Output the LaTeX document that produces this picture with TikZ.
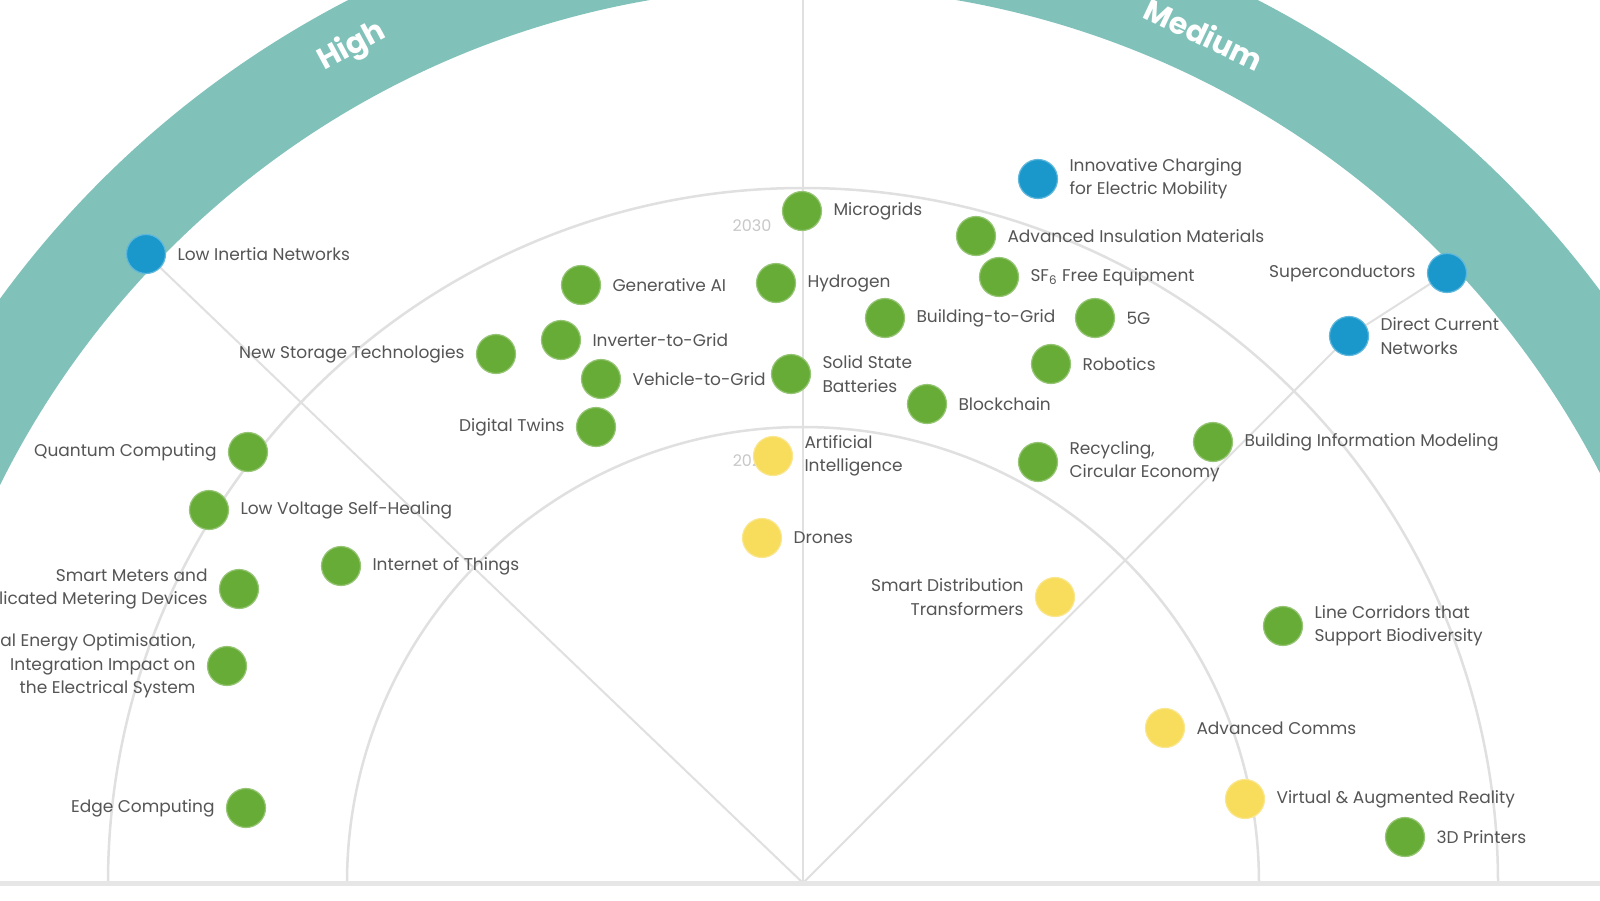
\documentclass[tikz,border=0pt]{standalone}
\usepackage{fontspec}
\setmainfont{Poppins}
\usetikzlibrary{backgrounds}
\definecolor{bandc}{HTML}{80C1B9}
\definecolor{dgreen}{HTML}{68AC38}
\definecolor{dblue}{HTML}{1A98CC}
\definecolor{dyellow}{HTML}{F8DC5C}
\definecolor{txt}{HTML}{555555}
\definecolor{gridc}{HTML}{E0E0E0}
\definecolor{yearc}{HTML}{C8C8C8}
\begin{document}
\begin{tikzpicture}[x=0.5pt,y=-0.5pt,
  lbl/.style={text=txt,font=\fontsize{8.5}{11.7}\selectfont,inner xsep=5.5pt,inner ysep=0pt},
  every label/.style={lbl},
  dot/.style={circle,minimum size=19.5pt,inner sep=0pt,label distance=0pt,line width=0.6pt},
  gdot/.style={dot,fill=dgreen,draw=dgreen!70!white},
  bdot/.style={dot,fill=dblue,draw=dblue!70!white},
  ydot/.style={dot,fill=dyellow,draw=dyellow!70!white},
  ringline/.style={draw=gridc,line width=1.25pt},
  guide/.style={draw=gridc,line width=1pt},
  baseline/.style={draw=gridc!80!white,line width=2.5pt},
  year/.style={text=yearc,font=\fontsize{8}{10}\selectfont,inner sep=0pt},
  bandtext/.style={text=white,font=\fontsize{15}{18}\selectfont\bfseries,inner sep=0pt}]
\useasboundingbox (0,0) rectangle (1600,900);
\coordinate (O) at (803,883);
\coordinate (top) at (803,0);
\coordinate (bl) at (0,883);
\coordinate (br) at (1600,883);

% year labels
\node[year] (y2030) at (752,226) {2030};
\node[year] (y2025) at (752,461) {2025};

% band labels
\node[bandtext,rotate=28.3] (high) at (352,47) {High};
\node[bandtext,rotate=-25.3] (medium) at (1204,34) {Medium};

% blue
\node[bdot,label={right:Low Inertia Networks}] (lowinertia) at (146,254) {};
\node[bdot,label={[align=left]right:{Innovative Charging\\for Electric Mobility}}] (charging) at (1038,179) {};
\node[bdot,label={left:Superconductors}] (supercond) at (1447,273) {};
\node[bdot,label={[align=left]right:{Direct Current\\Networks}}] (dcnet) at (1349,336) {};

% green
\node[gdot,label={right:Microgrids}] (microgrids) at (802,211) {};
\node[gdot,label={right:Advanced Insulation Materials}] (insulation) at (976,236) {};
\node[gdot,label={right:SF\textsubscript{6} Free Equipment}] (sf6) at (999,277) {};
\node[gdot,label={right:Generative AI}] (genai) at (581,285) {};
\node[gdot,label={right:Hydrogen}] (hydrogen) at (776,283) {};
\node[gdot,label={right:Building-to-Grid}] (b2g) at (885,318) {};
\node[gdot,label={right:5G}] (fiveg) at (1095,318) {};
\node[gdot,label={right:Inverter-to-Grid}] (i2g) at (561,340) {};
\node[gdot,label={left:New Storage Technologies}] (storage) at (496,354) {};
\node[gdot,label={right:Vehicle-to-Grid}] (v2g) at (601,379) {};
\node[gdot,label={[align=left]right:{Solid State\\Batteries}}] (solid) at (791,374) {};
\node[gdot,label={right:Robotics}] (robotics) at (1051,364) {};
\node[gdot,label={right:Blockchain}] (blockchain) at (927,404) {};
\node[gdot,label={left:Digital Twins}] (twins) at (596,427) {};
\node[gdot,label={left:Quantum Computing}] (quantum) at (248,452) {};
\node[gdot,label={[align=left]right:{Recycling,\\Circular Economy}}] (recycling) at (1038,462) {};
\node[gdot,label={right:Building Information Modeling}] (bim) at (1213,442) {};
\node[gdot,label={right:Low Voltage Self-Healing}] (lvsh) at (209,510) {};
\node[gdot,label={right:Internet of Things}] (iot) at (341,566) {};
\node[gdot,label={[align=right]left:{Smart Meters and\\licated Metering Devices}}] (meters) at (239,589) {};
\node[gdot,label={[align=right]left:{al Energy Optimisation,\\Integration Impact on\\the Electrical System}}] (energyopt) at (227,666) {};
\node[gdot,label={left:Edge Computing}] (edge) at (246,808) {};
\node[gdot,label={[align=left]right:{Line Corridors that\\Support Biodiversity}}] (corridors) at (1283,626) {};
\node[gdot,label={right:3D Printers}] (printers) at (1405,837) {};

% yellow
\node[ydot,label={[align=left]right:{Artificial\\Intelligence}}] (ai) at (773,456) {};
\node[ydot,label={right:Drones}] (drones) at (762,538) {};
\node[ydot,label={[align=right]left:{Smart Distribution\\Transformers}}] (sdt) at (1055,597) {};
\node[ydot,label={right:Advanced Comms}] (comms) at (1165,728) {};
\node[ydot,label={right:Virtual \& Augmented Reality}] (var) at (1245,799) {};

\begin{pgfonlayer}{background}
  \fill[white] (0,0) rectangle (1600,900);
  \begin{scope}
    \clip (0,0) rectangle (1600,883);
    \fill[bandc,even odd rule] (O) circle[radius=496.5pt] (O) circle[radius=448pt];
    \draw[ringline] (O) circle[radius=228pt];
    \draw[ringline] (O) circle[radius=347.5pt];
  \end{scope}
  \draw[guide] (O) -- (top);
  \draw[guide] (O) -- (lowinertia);
  \draw[guide] (O) -- (dcnet) -- (supercond);
  \draw[baseline] (bl) -- (br);
\end{pgfonlayer}
\end{tikzpicture}
\end{document}
